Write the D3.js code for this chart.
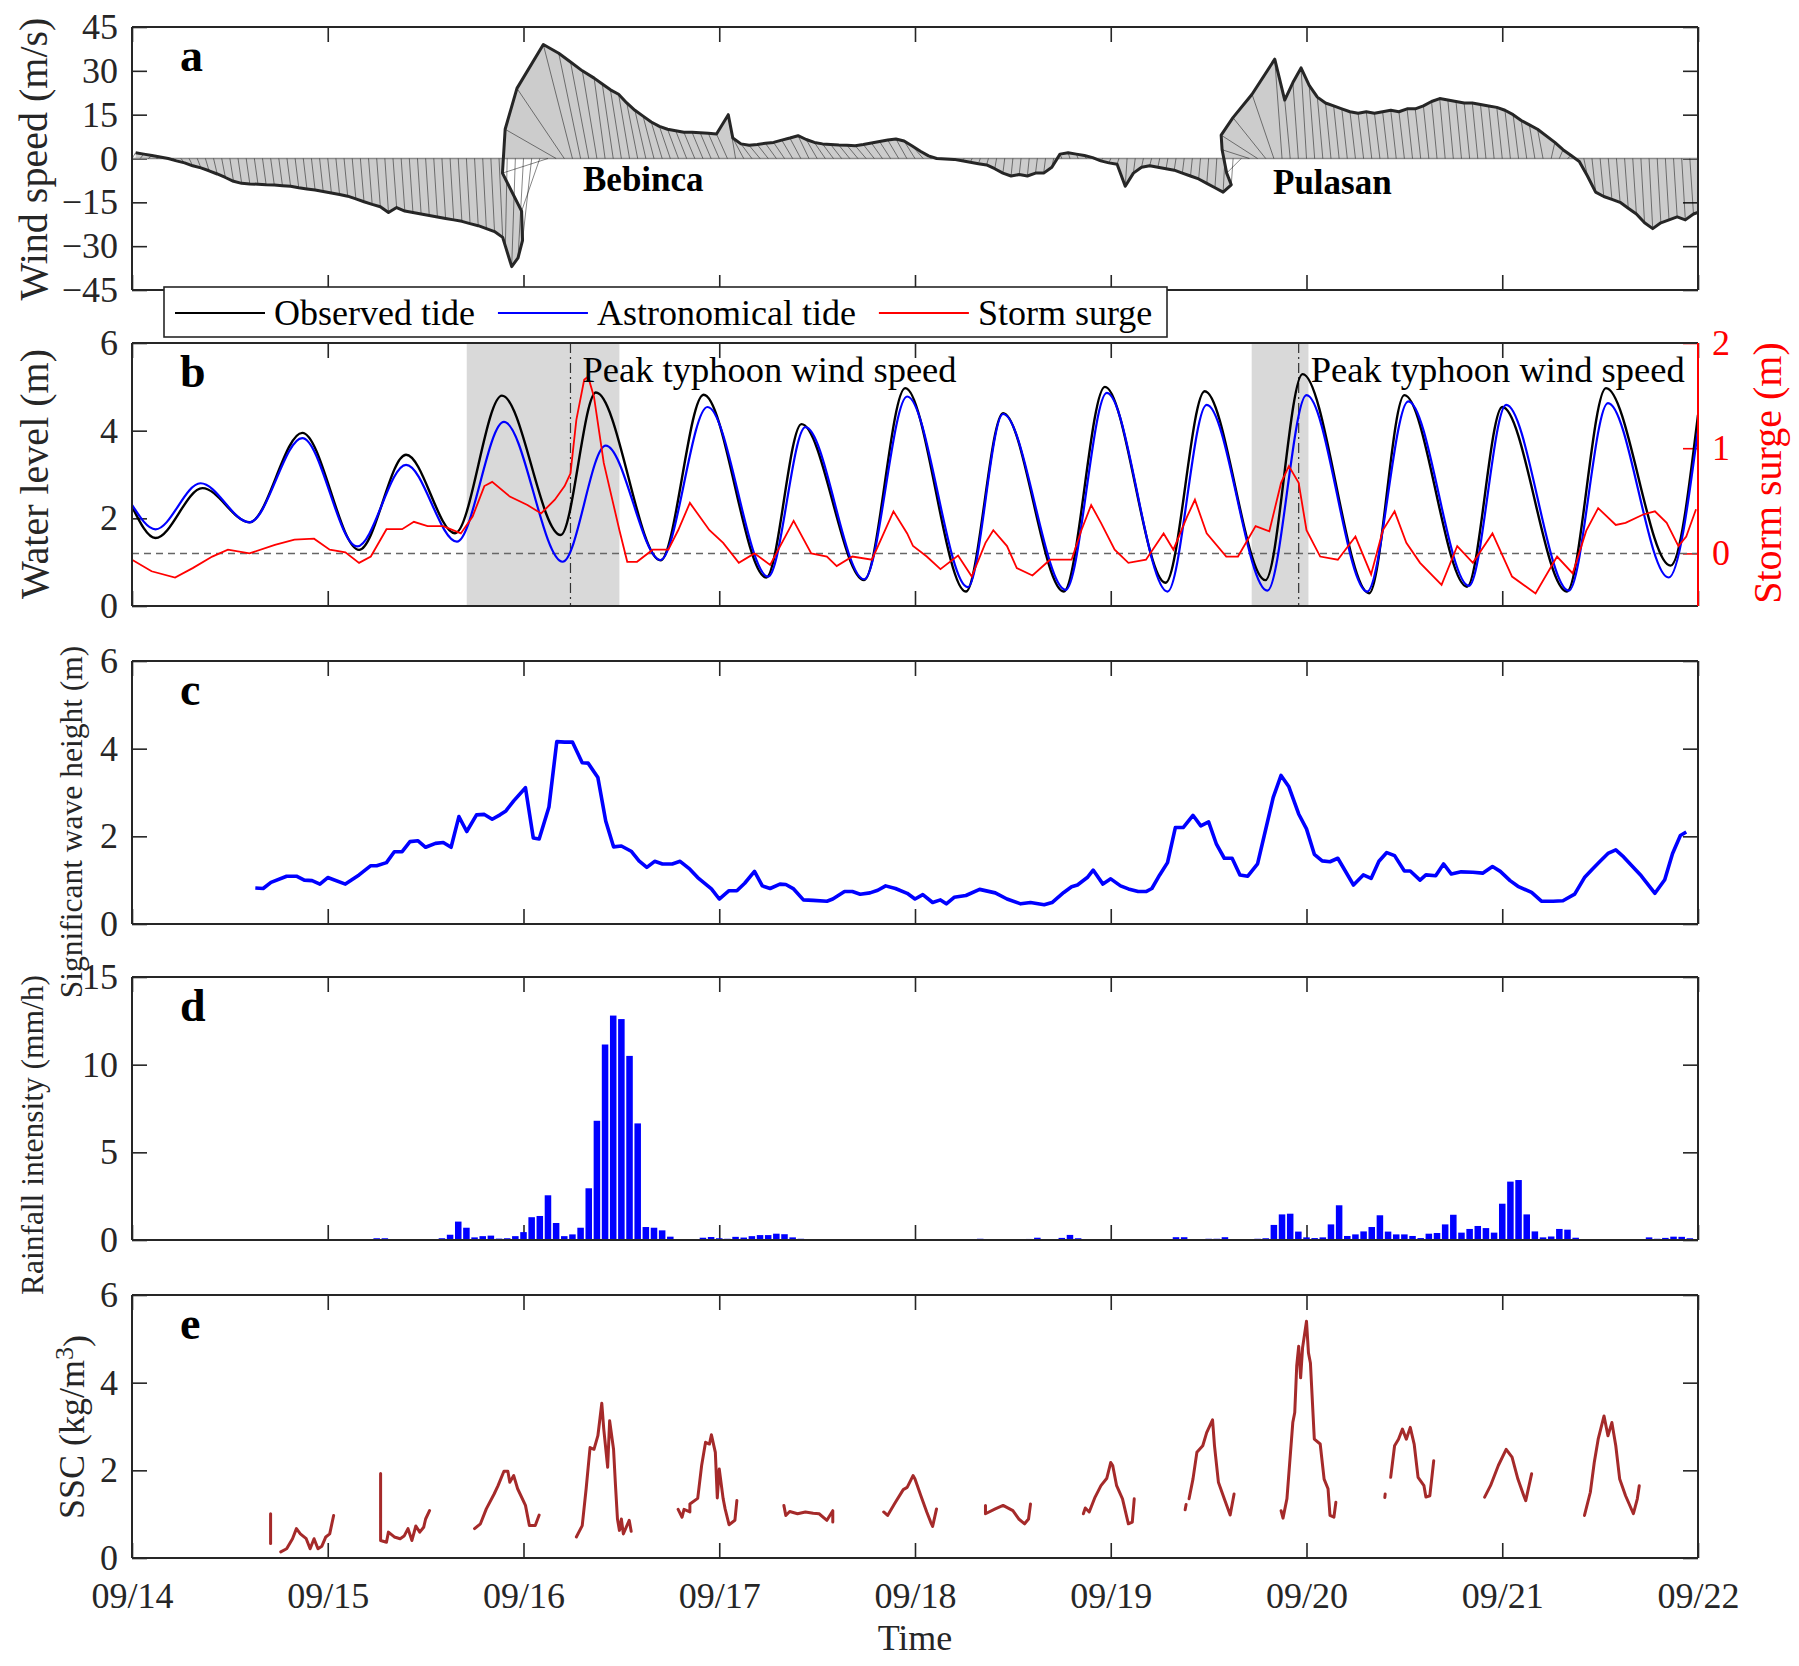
<!DOCTYPE html>
<html>
<head>
<meta charset="utf-8">
<script src="https://cdn.jsdelivr.net/npm/d3@7"></script>
<style>
  body { margin: 0; background: #fff; }
  svg text { font-family: "Liberation Serif", "Times New Roman", serif; }
</style>
</head>
<body>
<div id="chart"></div>
<script>
// ---- data (time in days after 09/14 00:00) ----
const dayLabels = ["09/14", "09/15", "09/16", "09/17", "09/18", "09/19", "09/20", "09/21", "09/22"];

// hourly wind, north (v) and east (u) components, m/s
const windV = [
  2, 1.5, 1, 0.5, 0, -0.8, -1.5, -2.5, -3.2, -4.2, -5.3, -6.5,
  -7.8, -8.5, -8.7, -8.8, -9, -9.1, -9.3, -9.5, -10, -10.4, -10.8, -11.3,
  -11.8, -12.3, -12.9, -13.8, -14.8, -15.7, -16.5, -18.5, -16.8, -18, -18.5, -19,
  -19.5, -20, -20.5, -21, -21.5, -22.3, -23, -24, -25, -27, -30, -37,
  -34, -28, -18, -5, 10, 24, 39, 36, 33, 30, 27.5, 25.5,
  23.5, 22, 19, 16.5, 14.5, 12.5, 11, 10, 9.5, 9, 9, 8.8,
  8.6, 8.4, 15, 7, 5, 4.5, 4.8, 5.2, 5.5, 6.3, 7, 7.8,
  6.5, 5.5, 5, 4.8, 4.6, 4.5, 4.4, 4.8, 5.3, 5.8, 6.3, 6.7,
  6, 4.3, 2.5, 0.9, 0, -0.3, -0.8, -1.3, -1.8, -2.2, -3.5, -5,
  -6, -5.5, -6, -5, -5, -3, 1.5, 2, 1.5, 1, 0.3, -0.8,
  -1.5, -2, -9.5, -5, -3, -2.5, -3, -3.5, -4, -5, -6, -7,
  -8.5, -10, -11.5, -9, -5, 3, 8, 14, 22, 34, 20, 26,
  31, 25, 21, 19, 18, 17, 16, 15.5, 16, 15.5, 16, 16.5,
  16, 17, 17, 18, 19.5, 20.5, 20, 19.5, 19, 19, 18.5, 18,
  17.5, 16.5, 15, 13, 11.5, 10, 5.5, 3, 1, -1, -6, -11.5,
  -13, -14, -15, -17, -19, -22, -24, -22, -21, -20, -21, -19,
  -18
];
const windU = [
  2, 2, 2, 2, 2, 2, 2, 2, 2, 2, 2, 2,
  2, 2, 2, 2, 2, 2, 2, 2, 2, 2, 2, 2,
  2, 2, 2, 2, 2, 2, 2, 2, 2, 2, 2, 2,
  2, 2, 2, 2, 2, 2, 2, 2, 2, 2, -1, -2,
  -3, -5, -10, -25, -28, -26, -16, -12, -10, -8, -6, -6,
  -6, -6, -6, -6, -6, -6, -6, -6, -6, -6, -6, -6,
  -6, -6, -4, -6, -6, -6, -6, -6, -6, -6, -6, -6,
  -6, -6, -6, -6, -6, -6, -6, -6, -6, -6, -6, -6,
  -6, -6, -6, -6, -6, -1, -1, -1, -1, -1, -1, -1,
  -1, -1, -1, -1, -1, -1, -1, -1, -1, -1, -1, -1,
  -1, -1, -1, -1, -1, -1, -1, -1, -1, -1, -1, -1,
  -1, -1, -1, -1, -8, -15, -20, -18, -12, -4, -3, -3,
  -3, -3, -3, -3, -3, -3, -3, -3, -3, -3, -3, -3,
  -3, -3, -3, -3, -3, -3, -3, -3, -3, -3, -3, -3,
  -3, -3, -3, -3, -3, -3, 2, 2, 2, 2, 2, 2,
  2, 2, 2, 2, 2, 2, 2, 2, 2, 2, 2, 2,
  2
];

// tide highs and lows (m)
const obsDay = [0, 0.12, 0.36, 0.6, 0.87, 1.16, 1.4, 1.65, 1.89, 2.19, 2.37, 2.7, 2.92, 3.24, 3.42, 3.74, 3.95,
  4.26, 4.45, 4.76, 4.97, 5.28, 5.48, 5.79, 5.98, 6.32, 6.5, 6.82, 7.0, 7.33, 7.53, 7.86, 8.0];
const obsLevel = [2.27, 1.55, 2.69, 1.91, 3.95, 1.28, 3.45, 1.66, 4.8, 1.62, 4.87, 1.04, 4.82, 0.65, 4.15, 0.59, 4.97,
  0.33, 4.4, 0.33, 5.0, 0.53, 4.9, 0.59, 5.29, 0.29, 4.81, 0.44, 4.54, 0.33, 4.97, 0.92, 4.36];
const astroDay = [0, 0.12, 0.35, 0.6, 0.87, 1.15, 1.4, 1.66, 1.9, 2.2, 2.42, 2.7, 2.94, 3.25, 3.44, 3.74, 3.96,
  4.27, 4.45, 4.77, 4.98, 5.29, 5.49, 5.8, 6.0, 6.31, 6.52, 6.83, 7.02, 7.34, 7.54, 7.85, 8.0];
const astroLevel = [2.31, 1.75, 2.8, 1.91, 3.83, 1.36, 3.22, 1.47, 4.2, 1.01, 3.66, 1.05, 4.54, 0.67, 4.08, 0.61, 4.78,
  0.43, 4.38, 0.37, 4.86, 0.33, 4.59, 0.35, 4.81, 0.33, 4.67, 0.46, 4.59, 0.35, 4.63, 0.65, 4.02];

// storm surge [day, m]
const surge = [
  [0, -0.06], [0.1, -0.17], [0.22, -0.23], [0.31, -0.14], [0.41, -0.03], [0.49, 0.035], [0.6, 0.0], [0.73, 0.08],
  [0.83, 0.13], [0.93, 0.14], [1.01, 0.035], [1.09, 0.01], [1.16, -0.09], [1.22, -0.03], [1.3, 0.23], [1.38, 0.23],
  [1.44, 0.3], [1.51, 0.26], [1.59, 0.26], [1.68, 0.19], [1.74, 0.35], [1.8, 0.64], [1.84, 0.68], [1.93, 0.54],
  [2.02, 0.46], [2.09, 0.38], [2.16, 0.51], [2.21, 0.64], [2.24, 0.76], [2.27, 1.27], [2.31, 1.65], [2.33, 1.68],
  [2.36, 1.49], [2.41, 0.86], [2.45, 0.54], [2.49, 0.22], [2.53, -0.08], [2.58, -0.08], [2.66, 0.035], [2.74, 0.035],
  [2.79, 0.22], [2.85, 0.48], [2.95, 0.22], [3.02, 0.1], [3.1, -0.09], [3.18, 0], [3.26, -0.11], [3.38, 0.31],
  [3.47, 0.0], [3.55, -0.03], [3.6, -0.12], [3.68, -0.03], [3.78, -0.06], [3.89, 0.4], [3.96, 0.19],
  [3.99, 0.07], [4.06, -0.03], [4.13, -0.15], [4.22, -0.02], [4.29, -0.22], [4.36, 0.1], [4.4, 0.22], [4.47, 0.07],
  [4.52, -0.14], [4.6, -0.21], [4.69, -0.06], [4.8, -0.06], [4.85, 0.22], [4.9, 0.46], [4.95, 0.29], [5.02, 0.035],
  [5.09, -0.09], [5.18, -0.06], [5.27, 0.19], [5.32, 0.035], [5.39, 0.35], [5.43, 0.51], [5.49, 0.19], [5.59, -0.03],
  [5.65, -0.03], [5.74, 0.26], [5.81, 0.21], [5.87, 0.67], [5.91, 0.83], [5.96, 0.67], [6.0, 0.22], [6.07, -0.03],
  [6.16, -0.06], [6.25, 0.16], [6.33, -0.2], [6.39, 0.22], [6.45, 0.4], [6.51, 0.1], [6.58, -0.09], [6.69, -0.3],
  [6.77, 0.07], [6.85, -0.09], [6.95, 0.19], [7.05, -0.22], [7.17, -0.38], [7.28, -0.03], [7.36, -0.19], [7.43, 0.22],
  [7.49, 0.43], [7.58, 0.27], [7.63, 0.29], [7.72, 0.37], [7.78, 0.4], [7.84, 0.29], [7.9, 0.07], [7.94, 0.16], [7.99, 0.42]
];

// shaded periods and peak wind times
const shadeSpans = [[1.71, 2.49], [5.72, 6.01]];
const peakDays = [2.24, 5.96];

// significant wave height [day, m]
const wave = [
  [0.63, 0.82], [0.67, 0.81], [0.71, 0.95], [0.79, 1.09], [0.84, 1.09], [0.88, 1.0], [0.92, 0.99], [0.96, 0.91],
  [1.0, 1.06], [1.09, 0.91], [1.16, 1.12], [1.22, 1.33], [1.25, 1.33], [1.3, 1.4], [1.34, 1.65], [1.38, 1.65],
  [1.42, 1.88], [1.46, 1.9], [1.5, 1.75], [1.55, 1.84], [1.59, 1.86], [1.63, 1.75], [1.67, 2.45], [1.71, 2.11],
  [1.76, 2.49], [1.8, 2.5], [1.84, 2.39], [1.88, 2.49], [1.91, 2.58], [1.95, 2.81], [2.01, 3.11], [2.05, 1.96],
  [2.08, 1.94], [2.13, 2.67], [2.17, 4.16], [2.21, 4.15], [2.25, 4.15], [2.3, 3.68], [2.33, 3.67], [2.38, 3.34],
  [2.42, 2.35], [2.46, 1.76], [2.5, 1.78], [2.55, 1.66], [2.59, 1.44], [2.63, 1.29], [2.67, 1.43], [2.71, 1.37],
  [2.76, 1.37], [2.8, 1.43], [2.85, 1.25], [2.89, 1.06], [2.96, 0.8], [3.0, 0.57], [3.05, 0.76], [3.09, 0.76],
  [3.13, 0.93], [3.18, 1.2], [3.22, 0.87], [3.26, 0.81], [3.31, 0.91], [3.34, 0.9], [3.38, 0.8], [3.43, 0.55],
  [3.48, 0.54], [3.55, 0.52], [3.58, 0.57], [3.64, 0.74], [3.68, 0.74], [3.72, 0.68], [3.77, 0.71], [3.81, 0.77],
  [3.85, 0.87], [3.9, 0.81], [3.96, 0.7], [4.0, 0.57], [4.04, 0.67], [4.09, 0.49], [4.13, 0.55], [4.16, 0.46],
  [4.2, 0.61], [4.26, 0.65], [4.33, 0.79], [4.41, 0.71], [4.47, 0.57], [4.54, 0.46], [4.59, 0.49], [4.66, 0.44],
  [4.7, 0.49], [4.76, 0.72], [4.8, 0.85], [4.83, 0.89], [4.88, 1.06], [4.91, 1.23], [4.96, 0.91], [5.0, 1.03],
  [5.05, 0.87], [5.09, 0.8], [5.14, 0.74], [5.18, 0.74], [5.21, 0.81], [5.25, 1.12], [5.29, 1.4], [5.33, 2.2],
  [5.37, 2.2], [5.42, 2.48], [5.46, 2.24], [5.5, 2.33], [5.54, 1.82], [5.58, 1.5], [5.62, 1.5], [5.66, 1.12],
  [5.7, 1.09], [5.75, 1.37], [5.83, 2.89], [5.87, 3.39], [5.91, 3.13], [5.96, 2.51], [6.0, 2.17], [6.04, 1.59],
  [6.08, 1.44], [6.12, 1.42], [6.16, 1.5], [6.24, 0.89], [6.29, 1.12], [6.33, 1.04], [6.37, 1.43], [6.41, 1.63],
  [6.45, 1.56], [6.5, 1.21], [6.53, 1.21], [6.58, 1.0], [6.61, 1.12], [6.66, 1.1], [6.7, 1.37], [6.74, 1.14],
  [6.79, 1.19], [6.85, 1.18], [6.9, 1.16], [6.95, 1.31], [6.99, 1.2], [7.04, 0.99], [7.08, 0.86], [7.15, 0.72],
  [7.2, 0.52], [7.26, 0.52], [7.31, 0.53], [7.37, 0.68], [7.42, 1.06], [7.46, 1.25], [7.5, 1.43], [7.54, 1.61],
  [7.58, 1.69], [7.62, 1.53], [7.71, 1.1], [7.78, 0.7], [7.83, 1.01], [7.87, 1.61], [7.91, 2.02], [7.94, 2.1]
];

// hourly rainfall intensity (mm/h)
const rain = [
  0, 0, 0, 0, 0, 0, 0, 0, 0, 0, 0, 0,
  0, 0, 0, 0, 0, 0, 0, 0, 0, 0, 0, 0,
  0, 0, 0, 0, 0, 0, 0.1, 0.1, 0.02, 0.02, 0.02, 0.05,
  0.05, 0.04, 0.1, 0.3, 1.05, 0.7, 0.15, 0.22, 0.25, 0.08, 0.1, 0.22,
  0.45, 1.3, 1.37, 2.55, 0.97, 0.22, 0.32, 0.7, 2.95, 6.8, 11.15, 12.8,
  12.6, 10.5, 6.65, 0.74, 0.7, 0.55, 0.19, 0.02, 0, 0, 0.13, 0.17,
  0.1, 0.07, 0.18, 0.14, 0.22, 0.28, 0.28, 0.36, 0.33, 0.15, 0.07, 0,
  0, 0, 0, 0, 0, 0, 0, 0, 0, 0, 0, 0,
  0, 0, 0, 0, 0.02, 0.02, 0.02, 0.02, 0.07, 0.01, 0.01, 0.01,
  0.01, 0.04, 0.06, 0.13, 0, 0, 0.12, 0.29, 0.1, 0, 0, 0,
  0, 0, 0.02, 0.02, 0.02, 0.02, 0.02, 0, 0.16, 0.16, 0, 0,
  0.07, 0.07, 0.16, 0, 0, 0, 0.07, 0.1, 0.86, 1.46, 1.5, 0.48,
  0.15, 0.11, 0.15, 0.89, 1.98, 0.23, 0.32, 0.49, 0.74, 1.41, 0.48, 0.32,
  0.32, 0.23, 0.11, 0.36, 0.4, 0.89, 1.44, 0.42, 0.63, 0.8, 0.68, 0.42,
  2.07, 3.33, 3.42, 1.46, 0.49, 0.15, 0.2, 0.63, 0.59, 0.13, 0, 0,
  0, 0, 0, 0, 0, 0.03, 0.15, 0.07, 0.12, 0.19, 0.18, 0.1
];

// suspended sediment concentration pieces [day, kg/m3]
const ssc = [
  [[0.708, 1.01], [0.708, 0.33]],
  [[0.76, 0.14], [0.79, 0.21], [0.82, 0.44], [0.84, 0.67], [0.86, 0.55], [0.89, 0.44], [0.91, 0.21], [0.93, 0.44],
   [0.95, 0.21], [0.97, 0.27], [0.99, 0.48], [1.01, 0.55], [1.03, 0.97]],
  [[1.27, 1.93], [1.27, 0.4], [1.3, 0.36], [1.31, 0.59], [1.34, 0.48], [1.37, 0.44], [1.39, 0.5], [1.41, 0.67],
   [1.43, 0.4], [1.45, 0.73], [1.47, 0.59], [1.49, 0.7], [1.5, 0.89], [1.52, 1.08]],
  [[1.75, 0.67], [1.78, 0.78], [1.81, 1.12], [1.85, 1.46], [1.87, 1.65], [1.9, 1.98], [1.92, 1.98], [1.93, 1.73],
   [1.95, 1.88], [1.97, 1.58], [2.01, 1.2], [2.03, 0.74], [2.06, 0.74], [2.08, 0.98]],
  [[2.27, 0.48], [2.3, 0.74], [2.32, 1.58], [2.34, 2.52], [2.36, 2.48], [2.38, 2.79], [2.4, 3.53], [2.41, 2.94],
   [2.43, 2.07], [2.44, 3.13], [2.46, 2.48], [2.47, 1.65], [2.48, 0.89], [2.49, 0.63], [2.5, 0.89], [2.51, 0.55],
   [2.54, 0.86], [2.55, 0.61]],
  [[2.79, 1.11], [2.81, 0.93], [2.82, 1.11], [2.85, 1.05], [2.85, 1.23], [2.89, 1.36], [2.91, 2.11], [2.93, 2.64],
   [2.95, 2.6], [2.96, 2.81], [2.98, 2.41], [2.99, 1.37], [3.0, 2.03], [3.02, 1.35], [3.03, 1.12], [3.05, 0.76],
   [3.08, 0.86], [3.09, 1.31]],
  [[3.33, 1.2], [3.34, 0.97], [3.36, 1.06], [3.4, 1.01], [3.44, 1.05], [3.48, 1.02], [3.51, 1.01], [3.55, 0.86],
   [3.58, 1.08], [3.58, 0.82]],
  [[3.84, 1.05], [3.86, 0.97], [3.9, 1.27], [3.94, 1.56], [3.96, 1.61], [3.99, 1.88], [4.0, 1.8], [4.03, 1.42],
   [4.06, 1.05], [4.08, 0.82], [4.09, 0.72], [4.11, 1.12]],
  [[4.36, 1.2], [4.36, 1.01], [4.41, 1.12], [4.45, 1.2], [4.5, 1.08], [4.53, 0.89], [4.56, 0.78], [4.58, 0.89],
   [4.59, 1.23]],
  [[4.86, 1.01], [4.87, 1.14], [4.89, 1.05], [4.92, 1.39], [4.95, 1.65], [4.98, 1.82], [5.0, 2.18], [5.01, 2.11],
   [5.03, 1.65], [5.06, 1.35], [5.09, 0.78], [5.11, 0.82], [5.12, 1.35]],
  [[5.38, 1.1], [5.385, 1.22]],
  [[5.4, 1.35], [5.42, 1.8], [5.44, 2.41], [5.47, 2.56], [5.49, 2.86], [5.52, 3.15], [5.53, 2.56], [5.55, 1.73],
   [5.58, 1.35], [5.61, 0.98], [5.63, 1.46]],
  [[5.87, 1.08], [5.88, 0.91], [5.9, 1.35], [5.93, 3.09], [5.94, 3.32], [5.95, 4.38], [5.96, 4.83], [5.97, 4.11],
   [5.98, 4.8], [6.0, 5.4], [6.01, 4.68], [6.02, 4.45], [6.04, 2.71], [6.07, 2.6], [6.09, 1.8], [6.11, 1.58],
   [6.12, 0.97], [6.14, 0.93], [6.15, 1.27]],
  [[6.4, 1.38], [6.402, 1.46]],
  [[6.43, 1.84], [6.45, 2.56], [6.47, 2.71], [6.49, 2.94], [6.51, 2.71], [6.53, 2.98], [6.55, 2.6], [6.57, 1.84],
   [6.6, 1.65], [6.61, 1.39], [6.63, 1.42], [6.65, 2.22]],
  [[6.91, 1.39], [6.94, 1.65], [6.98, 2.11], [7.02, 2.48], [7.05, 2.3], [7.08, 1.8], [7.11, 1.42], [7.12, 1.31],
   [7.15, 1.92]],
  [[7.42, 0.97], [7.45, 1.5], [7.47, 2.18], [7.49, 2.71], [7.52, 3.24], [7.54, 2.79], [7.56, 3.09], [7.58, 2.56],
   [7.6, 1.8], [7.63, 1.42], [7.67, 1.01], [7.69, 1.35], [7.7, 1.65]]
];

const legendNames = ["Observed tide", "Astronomical tide", "Storm surge"];
const legendColors = ["#000000", "#0000ff", "#ff0000"];

// ---- layout ----
const width = 1799, height = 1666;
const left = 132, right = 1698, panelH = 263, tickLen = 15;
const tops = { a: 27, b: 343, c: 661, d: 977, e: 1295 };
const axisColor = "#262626";

const svg = d3.select("#chart").append("svg")
  .attr("width", width).attr("height", height);

const x = d3.scaleLinear().domain([0, 8]).range([left, right]);
const dayTicks = d3.range(0, 9);
const numFmt = d => (d < 0 ? "\u2212" + Math.abs(d) : String(d));

function yScale(top, domain) {
  return d3.scaleLinear().domain(domain).range([top + panelH, top]);
}

function styleTicks(g) {
  g.attr("font-family", null).attr("font-size", null);
  g.selectAll(".domain").remove();
  g.selectAll(".tick line").attr("stroke", axisColor).attr("stroke-width", 1.6);
  g.selectAll(".tick text").attr("fill", axisColor).style("font-size", "36px");
}

// ticks drawn under the data, like the matlab default
function drawTicks(y, yTicks, opts) {
  opts = opts || {};
  const top = y.range()[1], bottom = y.range()[0];
  const g = svg.append("g");
  g.append("g").attr("transform", `translate(0,${bottom})`)
    .call(d3.axisBottom(x).tickValues(dayTicks).tickSize(-tickLen).tickPadding(24)
      .tickFormat(opts.xLabels ? (d, i) => dayLabels[i] : ""));
  g.append("g").attr("transform", `translate(0,${top})`)
    .call(d3.axisTop(x).tickValues(dayTicks).tickSize(-tickLen).tickFormat(""));
  g.append("g").attr("transform", `translate(${left},0)`)
    .call(d3.axisLeft(y).tickValues(yTicks).tickSize(-tickLen).tickPadding(14).tickFormat(numFmt));
  if (!opts.noRight) {
    g.append("g").attr("transform", `translate(${right},0)`)
      .call(d3.axisRight(y).tickValues(yTicks).tickSize(-tickLen).tickFormat(""));
  }
  g.selectAll("g").call(styleTicks);
  return g;
}

function drawFrame(y, rightColor) {
  const top = y.range()[1], bottom = y.range()[0];
  const g = svg.append("g").attr("stroke-width", 2).attr("fill", "none");
  g.append("line").attr("x1", left).attr("x2", right).attr("y1", top).attr("y2", top).attr("stroke", axisColor);
  g.append("line").attr("x1", left).attr("x2", right).attr("y1", bottom).attr("y2", bottom).attr("stroke", axisColor);
  g.append("line").attr("x1", left).attr("x2", left).attr("y1", top).attr("y2", bottom).attr("stroke", axisColor);
  g.append("line").attr("x1", right).attr("x2", right).attr("y1", top).attr("y2", bottom)
    .attr("stroke", rightColor || axisColor);
}

function panelLetter(top, letter) {
  svg.append("text").attr("x", 180).attr("y", top + 44)
    .attr("font-weight", "bold").style("font-size", "46px").text(letter);
}

function yLabel(cx, cy, txt, size, color) {
  return svg.append("text")
    .attr("transform", `translate(${cx},${cy}) rotate(-90)`)
    .attr("text-anchor", "middle").attr("dy", "0.35em")
    .attr("fill", color || axisColor).style("font-size", size + "px").text(txt);
}

function clipFor(id, y) {
  svg.append("clipPath").attr("id", id).append("rect")
    .attr("x", left).attr("y", y.range()[1]).attr("width", right - left).attr("height", panelH);
  return `url(#${id})`;
}

// ---- panel a: wind sticks ----
const ya = yScale(tops.a, [-45, 45]);
drawTicks(ya, d3.range(-45, 46, 15));
const windK = 0.0093; // days of x per m/s of east component
const windHours = d3.range(windV.length);
const tipX = h => x(h / 24 + windU[h] * windK);
const gWind = svg.append("g").attr("clip-path", clipFor("clipA", ya));
// shading stands in for the dense sticks of the original record
gWind.append("path")
  .attr("d", d3.area().x(tipX).y0(ya(0)).y1(h => ya(windV[h]))(windHours))
  .attr("fill", "#000").attr("fill-opacity", 0.2);
gWind.append("line").attr("x1", left).attr("x2", right).attr("y1", ya(0)).attr("y2", ya(0))
  .attr("stroke", "#8a8a8a").attr("stroke-width", 1.4);
gWind.selectAll("line.stick").data(windHours).join("line").attr("class", "stick")
  .attr("x1", h => x(h / 24)).attr("y1", ya(0))
  .attr("x2", tipX).attr("y2", h => ya(windV[h]))
  .attr("stroke", "#000").attr("stroke-width", 0.8).attr("stroke-opacity", 0.6);
gWind.append("path")
  .attr("d", d3.line().x(tipX).y(h => ya(windV[h]))(windHours))
  .attr("fill", "none").attr("stroke", "#262626").attr("stroke-width", 3)
  .attr("stroke-linejoin", "round");
drawFrame(ya);
panelLetter(tops.a, "a");
svg.append("text").attr("x", 583).attr("y", 191).attr("font-weight", "bold")
  .style("font-size", "35px").text("Bebinca");
svg.append("text").attr("x", 1273).attr("y", 194).attr("font-weight", "bold")
  .style("font-size", "35px").text("Pulasan");
yLabel(33, 159, "Wind speed (m/s)", 40);

// legend
const legend = svg.append("g");
legend.append("rect").attr("x", 164).attr("y", 287).attr("width", 1003).attr("height", 50)
  .attr("fill", "#fff").attr("stroke", axisColor).attr("stroke-width", 1.6);
let lx = 175;
legendNames.forEach((name, i) => {
  legend.append("line").attr("x1", lx).attr("x2", lx + 90).attr("y1", 313).attr("y2", 313)
    .attr("stroke", legendColors[i]).attr("stroke-width", 2.2);
  const t = legend.append("text").attr("x", lx + 99).attr("y", 325)
    .attr("fill", "#000").style("font-size", "36px").text(name);
  lx += 99 + t.node().getComputedTextLength() + 23;
});

// ---- panel b: water level and surge ----
const yb = yScale(tops.b, [0, 6]);
const ys = yScale(tops.b, [-0.5, 2]);
drawTicks(yb, [0, 2, 4, 6], { noRight: true });
const gRight = svg.append("g").attr("transform", `translate(${right},0)`)
  .call(d3.axisRight(ys).tickValues([0, 1, 2]).tickSize(-tickLen).tickPadding(14).tickFormat(numFmt));
styleTicks(gRight);
gRight.selectAll(".tick line").attr("stroke", "#ff0000");
gRight.selectAll(".tick text").attr("fill", "#ff0000");

const gB = svg.append("g").attr("clip-path", clipFor("clipB", yb));
gB.selectAll("rect.shade").data(shadeSpans).join("rect").attr("class", "shade")
  .attr("x", d => x(d[0])).attr("width", d => x(d[1]) - x(d[0]))
  .attr("y", tops.b).attr("height", panelH).attr("fill", "#d9d9d9");
gB.selectAll("line.peak").data(peakDays).join("line").attr("class", "peak")
  .attr("x1", d => x(d)).attr("x2", d => x(d)).attr("y1", tops.b).attr("y2", tops.b + panelH)
  .attr("stroke", "#333").attr("stroke-width", 1.2).attr("stroke-dasharray", "10,4,2,4");
gB.append("line").attr("x1", left).attr("x2", right).attr("y1", ys(0)).attr("y2", ys(0))
  .attr("stroke", "#666").attr("stroke-width", 1.5).attr("stroke-dasharray", "7,5");
const tideLine = d3.line().curve(d3.curveMonotoneX);
gB.append("path")
  .attr("d", tideLine.x((d, i) => x(obsDay[i])).y(d => yb(d))(obsLevel))
  .attr("fill", "none").attr("stroke", "#000").attr("stroke-width", 2.4);
gB.append("path")
  .attr("d", tideLine.x((d, i) => x(astroDay[i])).y(d => yb(d))(astroLevel))
  .attr("fill", "none").attr("stroke", "#0000ff").attr("stroke-width", 2.2);
gB.append("path")
  .attr("d", d3.line().x(d => x(d[0])).y(d => ys(d[1]))(surge))
  .attr("fill", "none").attr("stroke", "#ff0000").attr("stroke-width", 1.8);
drawFrame(yb, "#ff0000");
panelLetter(tops.b, "b");
svg.selectAll("text.peakLabel").data(peakDays).join("text").attr("class", "peakLabel")
  .attr("x", d => x(d) + 12).attr("y", 382).attr("fill", "#000")
  .style("font-size", "36.5px").text("Peak typhoon wind speed");
yLabel(34, 474, "Water level (m)", 40);
yLabel(1767, 473, "Storm surge (m)", 40, "#ff0000");

// ---- panel c: significant wave height ----
const yc = yScale(tops.c, [0, 6]);
drawTicks(yc, [0, 2, 4, 6]);
svg.append("path")
  .attr("d", d3.line().x(d => x(d[0])).y(d => yc(d[1]))(wave))
  .attr("fill", "none").attr("stroke", "#0000ff").attr("stroke-width", 3.6)
  .attr("stroke-linejoin", "round");
drawFrame(yc);
panelLetter(tops.c, "c");
yLabel(71, 822, "Significant wave height (m)", 31.5);

// ---- panel d: rainfall ----
const yd = yScale(tops.d, [0, 15]);
drawTicks(yd, [0, 5, 10, 15]);
const barW = x(0.8 / 24) - x(0);
svg.append("g").attr("clip-path", clipFor("clipD", yd))
  .selectAll("rect").data(rain).join("rect")
  .attr("x", (d, i) => x(i / 24) - barW / 2).attr("width", barW)
  .attr("y", d => yd(d)).attr("height", d => yd(0) - yd(d))
  .attr("fill", "#0000ff");
drawFrame(yd);
panelLetter(tops.d, "d");
yLabel(32, 1135, "Rainfall intensity (mm/h)", 31.5);

// ---- panel e: SSC ----
const ye = yScale(tops.e, [0, 6]);
drawTicks(ye, [0, 2, 4, 6], { xLabels: true });
svg.append("g").selectAll("path").data(ssc).join("path")
  .attr("d", d3.line().x(d => x(d[0])).y(d => ye(d[1])))
  .attr("fill", "none").attr("stroke", "#a52a2a").attr("stroke-width", 3)
  .attr("stroke-linejoin", "round").attr("stroke-linecap", "round");
drawFrame(ye);
panelLetter(tops.e, "e");
const sscLabel = yLabel(71, 1427, "", 36);
sscLabel.append("tspan").text("SSC (kg/m");
sscLabel.append("tspan").attr("dy", "-0.4em").style("font-size", "26px").text("3");
sscLabel.append("tspan").attr("dy", "0.4em").text(")");

svg.append("text").attr("x", (left + right) / 2).attr("y", 1650).attr("text-anchor", "middle")
  .attr("fill", axisColor).style("font-size", "36px").text("Time");
</script>
</body>
</html>
